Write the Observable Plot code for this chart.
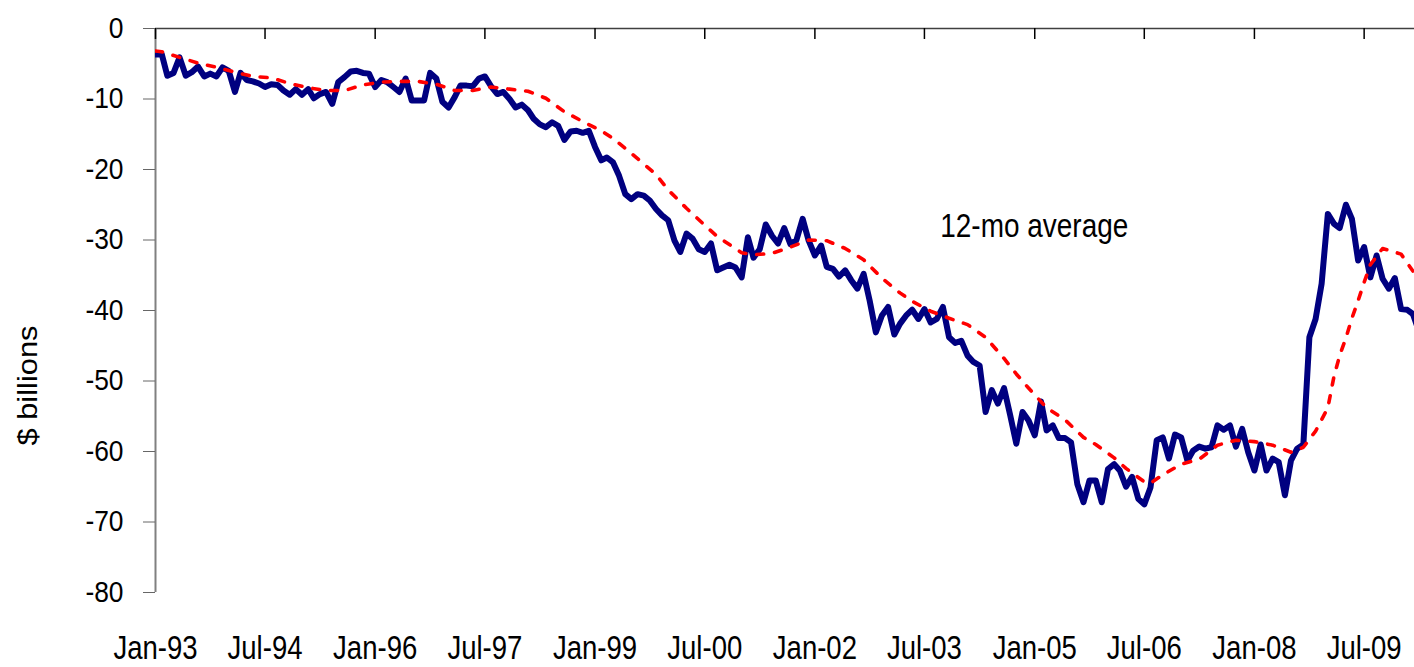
<!DOCTYPE html>
<html>
<head>
<meta charset="utf-8">
<script src="https://cdn.jsdelivr.net/npm/d3@7"></script>
<script src="https://cdn.jsdelivr.net/npm/@observablehq/plot@0.6"></script>
<style>
  html, body { margin: 0; padding: 0; background: #fff; }
</style>
</head>
<body>
<div id="chart"></div>
<script>
// ---- Data (monthly, starting Jan 1993), $ billions ----
const startYear = 1993;

// Monthly balance, Jan-93 onward (one value per month)
const monthlyBalance = [
  -3.7, -3.6, -6.7, -6.3, -4.1, -6.7, -6.2, -5.4, -6.8, -6.4, -6.8, -5.5,   // 1993
  -6.0, -9.0, -6.3, -7.3, -7.5, -7.8, -8.3, -7.9, -8.0, -8.8, -9.4, -8.6,   // 1994
  -9.4, -8.6, -9.9, -9.3, -9.0, -10.7, -7.6, -6.9, -6.1, -6.0, -6.3, -6.4,  // 1995
  -8.3, -7.3, -7.6, -8.3, -9.0, -7.1, -10.2, -10.2, -10.2, -6.3, -7.1, -10.4, // 1996
  -11.2, -9.7, -8.1, -8.1, -8.2, -7.1, -6.8, -8.2, -9.3, -9.0, -10.0, -11.2, // 1997
  -10.8, -11.6, -12.8, -13.6, -14.0, -13.3, -13.8, -15.8, -14.6, -14.5, -14.8, -14.5, // 1998
  -16.8, -18.7, -18.3, -19.0, -20.9, -23.5, -24.2, -23.5, -23.7, -24.4, -25.6, -26.5, // 1999
  -27.2, -30.1, -31.7, -29.1, -29.8, -31.3, -31.7, -30.5, -34.3, -33.9, -33.5, -33.9, // 2000
  -35.3, -29.6, -32.5, -31.3, -27.8, -29.4, -30.5, -28.3, -30.6, -30.0, -27.0, -30.1, // 2001
  -32.2, -30.8, -33.8, -34.1, -35.2, -34.3, -35.7, -36.9, -34.8, -38.6, -43.1, -40.7, // 2002
  -39.5, -43.4, -41.9, -40.7, -39.9, -41.2, -39.8, -41.7, -41.2, -39.5, -43.8, -44.6, // 2003
  -44.3, -46.4, -47.3, -47.8, -54.4, -51.3, -53.2, -51.0, -54.9, -58.9, -54.4, -55.6, // 2004
  -57.7, -52.9, -57.0, -56.3, -58.1, -58.1, -58.7, -64.6, -67.2, -64.1, -64.1, -67.2, // 2005
  -62.5, -61.8, -62.7, -65.0, -63.6, -66.7, -67.5, -65.1, -58.4, -58.0, -61.0, -57.6, // 2006
  -58.0, -61.3, -59.9, -59.3, -59.6, -59.4, -56.3, -56.9, -56.3, -59.3, -56.8, -60.1, // 2007
  -62.7, -59.0, -62.7, -61.0, -61.5, -66.2, -61.3, -59.6, -59.0, -43.8, -41.2, -36.2, // 2008
  -26.3, -27.7, -28.3, -25.0, -27.0, -32.9, -31.0, -35.3, -32.2, -35.5, -36.9, -35.4, // 2009
  -39.8, -39.9, -40.5, -43.0                                                         // 2010
];

// 12-month average, read where its dashes are visible (month index from Jan-93)
const avgMonthIndex = [
  0, 1, 4, 7, 10, 13, 16, 19, 22, 25, 28, 31, 34, 37, 40, 43, 46, 49, 52, 55, 58, 61,
  64, 67, 70, 73, 75, 78, 82, 84, 87, 90, 92, 96, 98, 101, 104, 107, 110, 113, 116,
  119, 122, 124, 127, 130, 133, 136, 139, 141, 143, 146, 149, 152, 154, 157, 159, 162,
  163, 165, 168, 171, 174, 177, 180, 183, 186, 188, 190, 192, 193, 194, 195, 196, 197,
  198, 199, 201, 204, 206
];
const avgValues = [
  -3.2, -3.3, -4.1, -4.9, -5.5, -6.2, -6.8, -7.0, -7.8, -8.4, -8.8, -8.8, -8.0, -7.6, -7.5, -7.5, -7.9, -8.8, -8.8, -8.3, -8.6, -8.9,
  -9.9, -11.8, -13.2, -14.5, -15.6, -17.7, -20.7, -22.9, -25.5, -27.9, -29.5, -31.8, -32.1, -31.9, -31.0, -30.0, -30.1, -31.2, -32.8,
  -35.4, -37.5, -38.7, -40.1, -41.1, -42.0, -43.8, -46.8, -49.0, -51.0, -53.8, -55.5, -58.0, -59.0, -60.9, -62.4, -64.3,
  -64.5, -63.3, -61.8, -61.1, -59.1, -58.4, -58.6, -59.1, -60.1, -59.4, -57.1, -53.8, -49.3, -46.4, -43.9, -41.1, -38.6,
  -36.0, -33.5, -31.2, -32.0, -34.4
];

// Axis ticks and texts
const xTickMonthIndex = [0, 18, 36, 54, 72, 90, 108, 126, 144, 162, 180, 198];
const yTicks = [0, -10, -20, -30, -40, -50, -60, -70, -80];
const yTitle = "$ billions";
const annotationText = "12-mo average";
const annotationDate = "2003-09-18";
const annotationValue = -28.1;

// ---- Build tables ----
const monthDate = (i) => new Date(Date.UTC(startYear, i, 1));
const balanceData = monthlyBalance.map((v, i) => ({date: monthDate(i), value: v}));
const avgData = avgMonthIndex.map((m, i) => ({date: monthDate(m), value: avgValues[i]}));
const xTicks = xTickMonthIndex.map(monthDate);
const annotations = [{date: new Date(annotationDate), value: annotationValue, text: annotationText}];

const fontFamily = '"Liberation Sans", Arial, sans-serif';
const fs = {x: 34, y: 29, note: 33.5, title: 28};

const W = 1414, H = 667;
const mTop = 28, mBottom = 75, mLeft = 155, mRight = 0;
const plotH = H - mTop - mBottom;
const xDomain = [new Date(Date.UTC(1993, 0, 1)), new Date(Date.UTC(2010, 2, 9))];

const chart = Plot.plot({
  width: W,
  height: H,
  marginTop: mTop,
  marginBottom: mBottom,
  marginLeft: mLeft,
  marginRight: mRight,
  style: {fontFamily, background: "#fff", color: "#000", overflow: "visible"},
  x: {type: "utc", domain: xDomain, label: null},
  y: {domain: [-80, 0], label: null},
  marks: [
    // top x-axis line at zero
    Plot.ruleY([0], {stroke: "#404040", strokeWidth: 1.5}),
    // y-axis line
    Plot.ruleX([xDomain[0]], {stroke: "#808080", strokeWidth: 2}),
    // x tick marks hanging from the top axis
    Plot.ruleX(xTicks, {stroke: "#000", strokeWidth: 1.5, insetBottom: plotH - 11}),
    Plot.axisY({
      ticks: yTicks, tickSize: 12, tickPadding: 20, tickFormat: (d) => String(d),
      fontSize: fs.y, stroke: "#666", label: null
    }),
    Plot.axisX({
      ticks: xTicks, tickSize: 0, tickPadding: 42, tickFormat: d3.utcFormat("%b-%y"),
      fontSize: fs.x, label: null
    }),
    Plot.text([yTitle], {
      frameAnchor: "left", textAnchor: "middle", dx: -127, dy: 75, rotate: -90,
      fontSize: fs.title, fill: "#000"
    }),
    Plot.text(annotations, {
      x: "date", y: "value", text: "text", textAnchor: "start",
      fontSize: fs.note, fill: "#000"
    }),
    Plot.lineY(balanceData, {
      x: "date", y: "value", stroke: "#000080", strokeWidth: 6,
      strokeLinejoin: "round", strokeLinecap: "round", clip: true
    }),
    Plot.lineY(avgData, {
      x: "date", y: "value", stroke: "#ff0000", strokeWidth: 3.6,
      strokeDasharray: "7 11", clip: true
    })
  ]
});
document.getElementById("chart").appendChild(chart);

// Narrow the glyphs (the original uses a condensed typeface)
function setLength(t, w) {
  t.setAttribute("textLength", w.toFixed(1));
  t.setAttribute("lengthAdjust", "spacingAndGlyphs");
}
chart.querySelectorAll('g[aria-label="x-axis tick label"] text')
  .forEach((t) => setLength(t, t.getComputedTextLength() * 0.81));
chart.querySelectorAll('g[aria-label="y-axis tick label"] text')
  .forEach((t) => setLength(t, t.getComputedTextLength() * 0.91));
chart.querySelectorAll("text").forEach((t) => {
  const s = t.textContent.trim();
  if (s === annotationText) setLength(t, 188);
  if (s === yTitle) setLength(t, 120);
});
</script>
</body>
</html>
